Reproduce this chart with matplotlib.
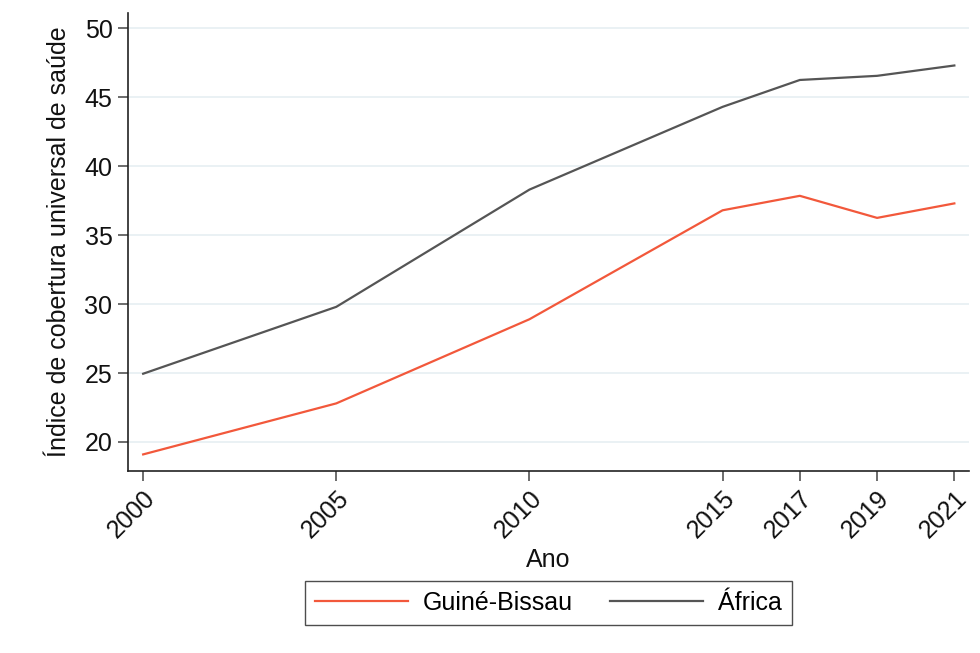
import numpy as np
import matplotlib.pyplot as plt

plt.rcParams['font.family'] = ['Liberation Sans', 'DejaVu Sans']

anos = [2000, 2005, 2010, 2015, 2017, 2019, 2021]
guine_bissau = [19.1, 22.8, 28.9, 36.8, 37.85, 36.25, 37.3]
africa = [24.95, 29.8, 38.3, 44.3, 46.25, 46.55, 47.3]
y_ticks = [20, 25, 30, 35, 40, 45, 50]

fig = plt.figure(figsize=(9.8, 6.53), dpi=100)
ax = fig.add_axes([0.1303, 0.2792, 0.8585, 0.7014])

ax.set_axisbelow(True)
ax.grid(axis='y', color='#e6eff2', linewidth=1.2)
ax.plot(anos, guine_bissau, color='#f2583b', linewidth=1.6, label='Guiné-Bissau')
ax.plot(anos, africa, color='#555555', linewidth=1.6, label='África')

ax.set_xlim(1999.6, 2021.38)
ax.set_ylim(17.92, 51.13)
ax.set_xticks(anos)
ax.set_xticklabels([str(a) for a in anos], rotation=45, ha='right', va='top',
                   rotation_mode='anchor')
ax.set_yticks(y_ticks)

for s in ['top', 'right']:
    ax.spines[s].set_visible(False)
for s in ['left', 'bottom']:
    ax.spines[s].set_color('#222222')
    ax.spines[s].set_linewidth(1.2)

ax.tick_params(axis='both', labelsize=18, length=7, width=1.1, color='#444444',
               labelcolor='#111111', pad=4)
ax.set_xlabel('Ano', fontsize=18, color='#111111', labelpad=4)
ax.set_ylabel('Índice de cobertura universal de saúde', fontsize=18,
              color='#111111', labelpad=10)

leg = ax.legend(loc='upper center', bbox_to_anchor=(0.5, -0.24), ncol=2,
                fontsize=18, frameon=True, fancybox=False, handlelength=3.7,
                columnspacing=1.5, borderpad=0.4, handletextpad=0.6,
                borderaxespad=0)
leg.get_frame().set_edgecolor('#222222')
leg.get_frame().set_linewidth(1.0)

fig.savefig('out.png', dpi=100)
